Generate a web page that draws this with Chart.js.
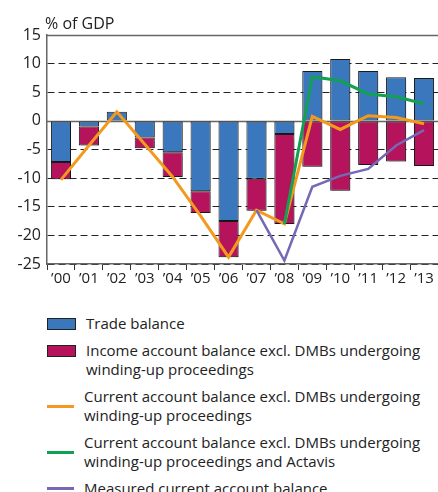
<!DOCTYPE html>
<html>
<head>
<meta charset="utf-8">
<script src="https://cdn.jsdelivr.net/npm/chart.js@4"></script>
<style>
  body { margin: 0; background: #fff; font-family: "Open Sans", sans-serif; color: #222; }
  #wrap { position: relative; width: 438px; height: 492px; }
  #unit { position: absolute; left: 45px; top: 12px; font-size: 16px; }
  #chartBox { position: absolute; left: 0; top: 0; width: 438px; height: 300px; }
  #legend { position: absolute; left: 47px; top: 314px; font-size: 15px; line-height: 19px; }
  .item { display: flex; align-items: center; margin-bottom: 8px; }
  .item.first { align-items: flex-start; }
  .item .mark { width: 27px; flex: none; margin-right: 10px; }
  .box { height: 10px; border: 1px solid #222; margin-top: 4px; }
  .line { height: 3px; }
</style>
</head>
<body>
<div id="wrap">
  <div id="chartBox"><canvas id="chart" width="438" height="300"></canvas></div>
  <div id="unit">% of GDP</div>
  <div id="legend"></div>
</div>
<script>
// datos
const years = ['\u201900', '\u201901', '\u201902', '\u201903', '\u201904', '\u201905', '\u201906',
               '\u201907', '\u201908', '\u201909', '\u201910', '\u201911', '\u201912', '\u201913'];
const tradeBalance = [-7.2, -1.0, 1.6, -2.9, -5.5, -12.3, -17.5, -10.1, -2.3, 8.7, 10.8, 8.7, 7.6, 7.5];
const incomeBalance = [-3.0, -3.3, null, -1.9, -4.3, -3.8, -6.3, -5.6, -15.7, -8.0, -12.2, -7.7, -7.1, -7.9];
const currentAccount = [-10.3, -4.3, 1.6, -4.1, -9.8, -16.6, -23.8, -15.6, -18.0, 0.8, -1.5, 0.9, 0.6, -0.5];
const currentExActavis = [null, null, null, null, null, null, null, null, -18.0, 7.7, 7.0, 4.7, 4.2, 3.0];
const measuredCurrent = [null, null, null, null, null, null, null, -15.6, -24.4, -11.5, -9.6, -8.4, -4.3, -1.6];
const yTicks = [-25, -20, -15, -10, -5, 0, 5, 10, 15];

const COLORS = {
    trade: '#3a77bd',
    income: '#b5135b',
    current: '#f39a1e',
    actavis: '#12a152',
    measured: '#7568b4'
};

// sombra gris de las barras
const barShadow = {
    id: 'barShadow',
    beforeDatasetDraw(chart, args) {
        if (args.meta.type !== 'bar') return;
        const ctx = chart.ctx;
        ctx.save();
        ctx.shadowColor = 'rgba(0,0,0,0.22)';
        ctx.shadowOffsetX = 2;
        ctx.shadowOffsetY = 1;
        ctx.shadowBlur = 1;
    },
    afterDatasetDraw(chart, args) {
        if (args.meta.type !== 'bar') return;
        chart.ctx.restore();
    }
};

// línea sólida arriba y en cero
const solidLines = {
    id: 'solidLines',
    beforeDatasetsDraw(chart) {
        const { ctx, chartArea, scales } = chart;
        ctx.save();
        ctx.strokeStyle = '#666';
        ctx.lineWidth = 1.5;
        [15, 0].forEach(v => {
            const y = Math.round(scales.y.getPixelForValue(v)) + 0.5;
            ctx.beginPath();
            ctx.moveTo(chartArea.left, y);
            ctx.lineTo(chartArea.right, y);
            ctx.stroke();
        });
        ctx.restore();
    }
};

const lineBase = {
    type: 'line',
    borderWidth: 3,
    pointRadius: 0,
    tension: 0,
    fill: false,
    spanGaps: false,
    order: 1
};

new Chart(document.getElementById('chart'), {
    data: {
        labels: years,
        datasets: [
            { ...lineBase, label: 'Measured current account balance', data: measuredCurrent,
              borderColor: COLORS.measured, stack: 's3', borderWidth: 2.5 },
            { ...lineBase, label: 'Current account balance excl. DMBs undergoing winding-up proceedings and Actavis',
              data: currentExActavis, borderColor: COLORS.actavis, stack: 's2' },
            { ...lineBase, label: 'Current account balance excl. DMBs undergoing winding-up proceedings',
              data: currentAccount, borderColor: COLORS.current, stack: 's1' },
            {
                type: 'bar', label: 'Trade balance', data: tradeBalance, stack: 'bars',
                backgroundColor: COLORS.trade, borderColor: '#1b1b1b', borderWidth: 1,
                borderSkipped: false, barPercentage: 0.72, categoryPercentage: 1, order: 2
            },
            {
                type: 'bar', label: 'Income account balance excl. DMBs undergoing winding-up proceedings',
                data: incomeBalance, stack: 'bars',
                backgroundColor: COLORS.income, borderColor: '#1b1b1b', borderWidth: 1,
                borderSkipped: false, barPercentage: 0.72, categoryPercentage: 1, order: 3
            }
        ]
    },
    options: {
        responsive: false,
        animation: false,
        layout: { padding: { top: 35, right: 0, left: 0, bottom: 0 } },
        plugins: {
            legend: { display: false },
            tooltip: { enabled: false }
        },
        scales: {
            x: {
                stacked: true,
                offset: true,
                grid: {
                    display: true, drawOnChartArea: false, drawTicks: true,
                    tickLength: 6, color: '#333', offset: true
                },
                border: { display: true, color: '#666', width: 1.5 },
                ticks: {
                    color: '#222', padding: 0, maxRotation: 0, autoSkip: false,
                    font: { family: 'Open Sans', size: 15 }
                },
                afterFit: s => { s.height = 36; }
            },
            y: {
                stacked: true,
                min: -25,
                max: 15,
                afterBuildTicks: s => { s.ticks = yTicks.map(v => ({ value: v })); },
                grid: {
                    drawTicks: false,
                    color: c => (c.tick && (c.tick.value === 15 || c.tick.value === 0)) ? 'rgba(0,0,0,0)' : '#222',
                    lineWidth: 1
                },
                border: { display: true, color: '#666', width: 1.5, dash: [7, 4] },
                ticks: {
                    color: '#222', padding: 6,
                    font: { family: 'Open Sans', size: 16 }
                },
                afterFit: s => { s.width = 47; }
            }
        }
    },
    plugins: [solidLines, barShadow]
});

// leyenda en HTML (textos en dos renglones)
const legendItems = [
    { kind: 'box', color: COLORS.trade, text: 'Trade balance' },
    { kind: 'box', color: COLORS.income, text: 'Income account balance excl. DMBs undergoing<br>winding-up proceedings' },
    { kind: 'line', color: COLORS.current, text: 'Current account balance excl. DMBs undergoing<br>winding-up proceedings' },
    { kind: 'line', color: COLORS.actavis, text: 'Current account balance excl. DMBs undergoing<br>winding-up proceedings and Actavis' },
    { kind: 'line', color: COLORS.measured, text: 'Measured current account balance' }
];
document.getElementById('legend').innerHTML = legendItems.map(it => `
    <div class="item${it.kind === 'box' ? ' first' : ''}">
        <div class="mark ${it.kind}" style="background:${it.color}"></div>
        <div>${it.text}</div>
    </div>
`).join('');
</script>
</body>
</html>
